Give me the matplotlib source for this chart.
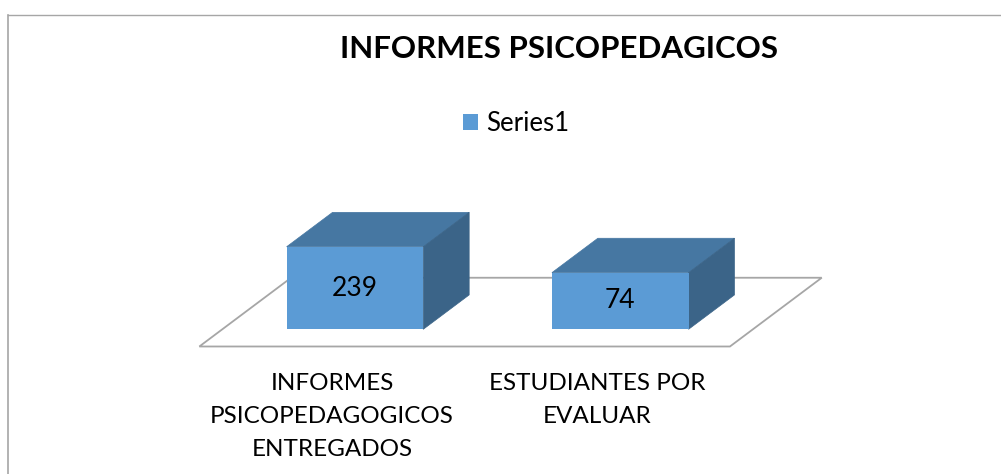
import matplotlib
matplotlib.use("Agg")
import matplotlib.pyplot as plt
import numpy as np
from matplotlib.patches import Polygon
from matplotlib.lines import Line2D

# ---- data ----
categories = ["INFORMES\nPSICOPEDAGOGICOS\nENTREGADOS", "ESTUDIANTES POR\nEVALUAR"]
values = [239, 74]
series_name = "Series1"
title = "INFORMES PSICOPEDAGICOS"
axis_min = -287          # value-axis minimum of the (hidden) vertical axis
axis_max = 300

# ---- style ----
FRONT = "#5B9BD5"
TOP = "#4677A2"
SIDE = "#3B6488"
FLOOR_EDGE = "#A6A6A6"
FONT = "Lato"

W, H, DPI = 1001, 474, 100
fig = plt.figure(figsize=(W / DPI, H / DPI), dpi=DPI)
fig.patch.set_facecolor("white")

# axes = front plane of the bars
ax_left, ax_right = 222.3, 752.9
ax_bottom_px, ax_top_px = 329.3, 237.16
ax = fig.add_axes([ax_left / W, 1 - ax_bottom_px / H,
                   (ax_right - ax_left) / W, (ax_bottom_px - ax_top_px) / H])
ax.set_xlim(-0.5, len(values) - 0.5)
ax.set_ylim(axis_min, axis_max)
ax.axis("off")

pos = np.arange(len(values))
bw = 0.515
DX, DY = 0.173, 219.0  # bar depth in data units

# floor
floor = Polygon([(-0.5 - 0.5 * DX, axis_min - 0.5 * DY),
                 (len(values) - 0.5 - 0.5 * DX, axis_min - 0.5 * DY),
                 (len(values) - 0.5 + 1.5 * DX, axis_min + 1.5 * DY),
                 (-0.5 + 1.5 * DX, axis_min + 1.5 * DY)],
                closed=True, facecolor="white", edgecolor=FLOOR_EDGE,
                linewidth=1.3, clip_on=False, zorder=1)
ax.add_patch(floor)

vals = np.array(values, dtype=float)
bars = ax.bar(pos, vals - axis_min, bottom=axis_min, width=bw, color=FRONT,
              zorder=3, clip_on=False, label=series_name)
for x, v in zip(pos, vals):
    top = Polygon([(x - bw / 2, v), (x + bw / 2, v),
                   (x + bw / 2 + DX, v + DY), (x - bw / 2 + DX, v + DY)],
                  closed=True, facecolor=TOP, edgecolor=TOP, linewidth=0.5,
                  clip_on=False, zorder=2)
    side = Polygon([(x + bw / 2, axis_min), (x + bw / 2 + DX, axis_min + DY),
                    (x + bw / 2 + DX, v + DY), (x + bw / 2, v)],
                   closed=True, facecolor=SIDE, edgecolor=SIDE, linewidth=0.5,
                   clip_on=False, zorder=2)
    ax.add_patch(top)
    ax.add_patch(side)
    ax.text(x, (axis_min + v) / 2, f"{int(v)}", ha="center", va="center",
            fontsize=19, family=FONT, color="black", zorder=5)

# category labels under the floor front edge
for x, lab in zip(pos, categories):
    ax.annotate(lab, xy=(x - 0.5 * DX, axis_min - 0.5 * DY), xytext=(0, -19),
                textcoords="offset points", ha="center", va="top",
                multialignment="center", fontsize=17.5, family=FONT,
                linespacing=1.72, annotation_clip=False)

# title
fig.text(559 / W, 1 - 58.3 / H, title, ha="center", va="baseline",
         fontsize=22.5, fontweight="bold", family=FONT)

# legend
fig.legend(handles=[bars], labels=[series_name], loc="center",
           bbox_to_anchor=(516 / W, 1 - 123.5 / H), frameon=False,
           prop={"family": FONT, "size": 18.5}, handlelength=0.6,
           handleheight=0.6, handletextpad=0.3)

# chart border
fig.add_artist(Line2D([7.8 / W, 7.8 / W], [0, 1 - 14.5 / H], color="#A6A6A6",
                      linewidth=1.2, transform=fig.transFigure))
fig.add_artist(Line2D([7.8 / W, 1], [1 - 14.5 / H, 1 - 14.5 / H], color="#A6A6A6",
                      linewidth=1.0, transform=fig.transFigure))

fig.savefig("out.png", dpi=DPI, facecolor="white")
